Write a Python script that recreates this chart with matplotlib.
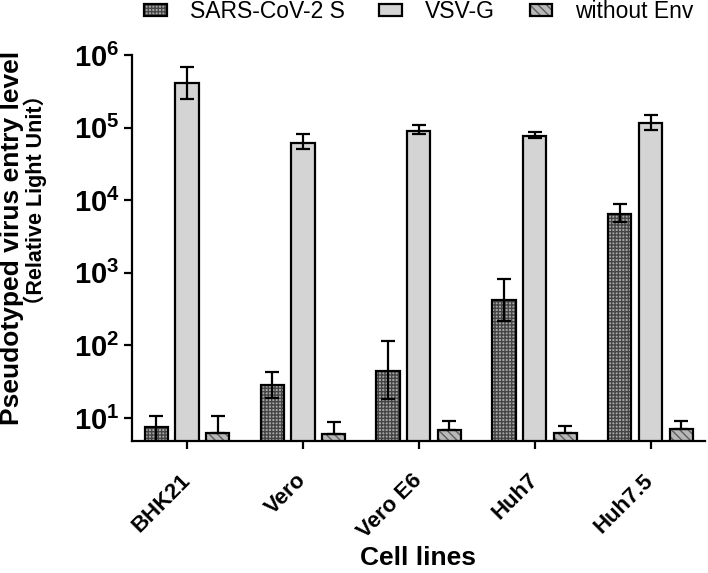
import numpy as np
import matplotlib
matplotlib.use('Agg')
import matplotlib.pyplot as plt
from matplotlib.patches import Patch
from matplotlib.ticker import FixedLocator, FixedFormatter, NullLocator

# data
cells = ['BHK21', 'Vero', 'Vero E6', 'Huh7', 'Huh7.5']
sars_mean = [7.5, 28.5, 44, 420, 6500]
sars_low = [4.4, 19, 18, 217, 5000]
sars_high = [10.6, 43, 115, 820, 8900]
vsv_mean = [4.1e5, 6.1e4, 9.0e4, 7.6e4, 1.15e5]
vsv_low = [2.5e5, 5.0e4, 8.1e4, 7.2e4, 9.3e4]
vsv_high = [6.9e5, 8.1e4, 1.1e5, 8.7e4, 1.49e5]
noenv_mean = [6.2, 6.0, 6.8, 6.2, 7.1]
noenv_high = [10.6, 8.8, 9.1, 7.8, 9.1]
series_names = ['SARS-CoV-2 S', 'VSV-G', 'without Env']
ytick_vals = [1e1, 1e2, 1e3, 1e4, 1e5, 1e6]
ytick_labels = [r'$\mathbf{10^{%d}}$' % k for k in range(1, 7)]

plt.rcParams['font.family'] = ['Liberation Sans', 'Noto Sans CJK SC', 'DejaVu Sans']
plt.rcParams['font.weight'] = 'bold'
plt.rcParams['mathtext.fontset'] = 'custom'
plt.rcParams['mathtext.rm'] = 'Liberation Sans'
plt.rcParams['mathtext.bf'] = 'Liberation Sans:bold'
plt.rcParams['hatch.linewidth'] = 1.0

fig = plt.figure(figsize=(7.08, 5.73), dpi=100)
ax = fig.add_axes([132/708, 1-441/573, 573/708, 386/573])

x = np.arange(len(cells))
w = 0.2
off = 0.265

# (face, hatch colour, hatch)
styles = [('#a8a8a8', '#454545', '+++++'),
          ('#d4d4d4', '#d4d4d4', ''),
          ('#b8b8b8', '#5e5e5e', '\\\\\\\\')]
means = [sars_mean, vsv_mean, noenv_mean]
for i, (m, st) in enumerate(zip(means, styles)):
    xs = x + (i - 1) * off
    ax.bar(xs, m, w, color=st[0], edgecolor=st[1], hatch=st[2], linewidth=0, zorder=1)
    ax.bar(xs, m, w, facecolor='none', edgecolor='black', linewidth=1.6, zorder=2)

sm = np.array(sars_mean)
vm = np.array(vsv_mean)
nm = np.array(noenv_mean)
eb = dict(fmt='none', ecolor='black', elinewidth=1.6, capsize=5, capthick=1.6, zorder=3)
ax.errorbar(x - off, sm, yerr=[sm - np.array(sars_low), np.array(sars_high) - sm], **eb)
ax.errorbar(x, vm, yerr=[vm - np.array(vsv_low), np.array(vsv_high) - vm], **eb)
ax.errorbar(x + off, nm, yerr=[np.zeros(len(nm)), np.array(noenv_high) - nm], **eb)

ax.set_yscale('log')
ax.set_ylim(4.82, 1e6)
ax.set_xlim(-0.475, 4.47)
ax.yaxis.set_major_locator(FixedLocator(ytick_vals))
ax.yaxis.set_major_formatter(FixedFormatter(ytick_labels))
ax.yaxis.set_minor_locator(NullLocator())
ax.set_xticks(x)
ax.set_xticklabels(cells, rotation=45, ha='right', va='center', rotation_mode='anchor',
                   fontsize=16, fontweight='bold')
ax.tick_params(axis='x', length=6, width=1.6, pad=20)
ax.tick_params(axis='y', length=6, width=1.6, labelsize=21, pad=3)
for s in ['top', 'right']:
    ax.spines[s].set_visible(False)
for s in ['left', 'bottom']:
    ax.spines[s].set_linewidth(1.6)

ax.set_xlabel('Cell lines', fontsize=19, fontweight='bold', va='center')
ax.xaxis.set_label_coords(0.5, -0.303)

fig.text(12/708, 1-238/573, 'Pseudotyped virus entry level', rotation=90,
         ha='center', va='center', fontsize=19, fontweight='bold')
fig.text(35/708, 1-200/573, '（Relative Light Unit）', rotation=90,
         ha='center', va='center', fontsize=15.5, fontweight='bold')

handles = [Patch(facecolor=st[0], edgecolor=st[1], hatch=st[2], linewidth=0) for st in styles]
handles = [(h, Patch(facecolor='none', edgecolor='black', linewidth=1.6)) for h in handles]
fig.legend(handles, series_names, loc='center', bbox_to_anchor=(419/708, 1-12/573),
           ncol=3, frameon=False, handlelength=1.0, handleheight=0.45,
           handletextpad=1.0, columnspacing=1.5, borderpad=0,
           prop={'weight': 'normal', 'size': 16.5})

fig.savefig('out.png', dpi=100)
